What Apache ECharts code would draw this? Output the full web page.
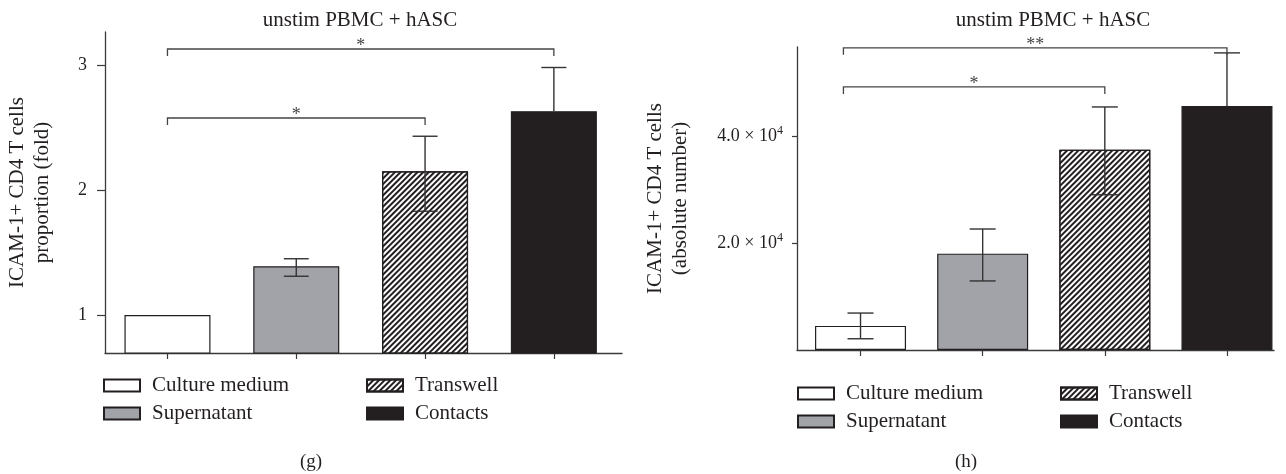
<!DOCTYPE html>
<html><head><meta charset="utf-8">
<script src="https://cdn.jsdelivr.net/npm/echarts@6/dist/echarts.min.js"></script>
<style>html,body{margin:0;padding:0;background:#fff}#c{width:1286px;height:474px}</style>
</head><body><div id="c"></div>
<script>
// ---- data ----
const categories = ['Culture medium', 'Supernatant', 'Transwell', 'Contacts'];
// panel (g): fold change
const foldMean = [1.0, 1.39, 2.15, 2.63];
const foldLow  = [null, 1.31, 1.83, null];
const foldHigh = [null, 1.45, 2.43, 2.98];
const foldTicks = [1, 2, 3];
const foldBrackets = [[0, 3, 3.128], [0, 2, 2.576]];
const foldStars = ['*', '*'];
// panel (h): absolute number
const absMean = [4500, 18000, 37400, 45600];
const absLow  = [2100, 12900, 29000, null];
const absHigh = [6900, 22600, 45400, 55500];
const absTicks = [20000, 40000];
const absBrackets = [[-0.14, 3, 56440], [-0.14, 2, 49150]];
const absStars = ['**', '*'];
const panelTitles = ['unstim PBMC + hASC', 'unstim PBMC + hASC'];
const panelLetters = ['(g)', '(h)'];
const yNames = ['ICAM-1+ CD4 T cells\nproportion (fold)', 'ICAM-1+ CD4 T cells\n(absolute number)'];

// ---- styles ----
const FONT = 'Liberation Serif';
const INK = '#231f20';
const AX = '#3a3a3a';
const fills = ['#ffffff', '#a1a3a9', '#ffffff', '#231f20'];
const hatch = { symbol: 'rect', symbolSize: 1, dashArrayX: [1, 0], dashArrayY: [2, 2], rotation: -Math.PI / 4, color: INK };

const panels = [
  { mean: foldMean, low: foldLow, high: foldHigh, ticks: foldTicks, brackets: foldBrackets, stars: foldStars,
    grid: { left: 105, top: 32, width: 517, height: 321 }, xmin: -0.485, xmax: 3.529, ymin: 0.696, ymax: 3.264,
    barWidth: 86, cap: 12.5, nameGap: 50, tickLen: 8, labelMargin: 18, fmt: v => '{m|' + v + '}' },
  { mean: absMean, low: absLow, high: absHigh, ticks: absTicks, brackets: absBrackets, stars: absStars,
    grid: { left: 797, top: 47, width: 477, height: 303 }, xmin: -0.52, xmax: 3.385, ymin: 0, ymax: 56600,
    barWidth: 91, cap: 13, nameGap: 104, tickLen: 5, labelMargin: 14, fmt: v => '{m|' + (v / 10000).toFixed(1) + ' × 10}{s|4}' }
];

const grid = [], xAxis = [], yAxis = [], series = [];
panels.forEach((p, g) => {
  grid.push(Object.assign({ containLabel: false }, p.grid));
  xAxis.push({
    type: 'value', gridIndex: g, min: p.xmin, max: p.xmax,
    axisLine: { show: true, onZero: false, lineStyle: { color: AX, width: 1.3 } },
    axisTick: { show: true, customValues: [0, 1, 2, 3], length: 6, lineStyle: { color: AX, width: 1.2 } },
    axisLabel: { show: false }, splitLine: { show: false }
  });
  yAxis.push({
    type: 'value', gridIndex: g, min: p.ymin, max: p.ymax,
    name: yNames[g], nameLocation: 'middle', nameGap: p.nameGap, nameRotate: 90,
    nameTextStyle: { fontFamily: FONT, fontSize: 21, color: INK, lineHeight: 25 },
    axisLine: { show: true, onZero: false, lineStyle: { color: AX, width: 1.3 } },
    axisTick: { show: true, customValues: p.ticks, length: p.tickLen, lineStyle: { color: AX, width: 1.2 } },
    axisLabel: {
      customValues: p.ticks, margin: p.labelMargin, fontFamily: FONT, fontSize: 18, color: INK,
      formatter: p.fmt,
      rich: { m: { fontFamily: FONT, fontSize: 18, color: INK }, s: { fontFamily: FONT, fontSize: 12, color: INK, verticalAlign: 'top', lineHeight: 22 } }
    },
    splitLine: { show: false }
  });
  categories.forEach((c, i) => {
    const item = { color: fills[i], borderColor: INK, borderWidth: 1.2 };
    if (i === 2) item.decal = hatch;
    series.push({
      name: c, type: 'bar', xAxisIndex: g, yAxisIndex: g, barWidth: p.barWidth, barGap: '-100%',
      data: [[i, p.mean[i]]], itemStyle: item, emphasis: { disabled: true }, silent: true
    });
  });
  // error bars (low == null: only the upper whisker is visible)
  const errData = [];
  p.mean.forEach((m, i) => { if (p.high[i] != null) errData.push([i, p.low[i] != null ? p.low[i] : m, p.high[i], p.low[i] != null ? 1 : 0]); });
  series.push({
    type: 'custom', xAxisIndex: g, yAxisIndex: g, data: errData, clip: false, z: 5, silent: true,
    encode: { x: 0, y: [1, 2] },
    renderItem: (params, api) => {
      const x = api.value(0);
      const hi = api.coord([x, api.value(2)]);
      const lo = api.coord([x, api.value(1)]);
      const st = { stroke: '#333', lineWidth: 1.4, fill: null };
      const ch = [
        { type: 'line', shape: { x1: hi[0], y1: hi[1], x2: lo[0], y2: lo[1] }, style: st },
        { type: 'line', shape: { x1: hi[0] - p.cap, y1: hi[1], x2: hi[0] + p.cap, y2: hi[1] }, style: st }
      ];
      if (api.value(3)) ch.push({ type: 'line', shape: { x1: lo[0] - p.cap, y1: lo[1], x2: lo[0] + p.cap, y2: lo[1] }, style: st });
      return { type: 'group', children: ch };
    }
  });
  // significance brackets
  series.push({
    type: 'custom', xAxisIndex: g, yAxisIndex: g, data: p.brackets, clip: false, z: 6, silent: true,
    encode: { x: [0, 1], y: 2 },
    renderItem: (params, api) => {
      const a = api.coord([api.value(0), api.value(2)]);
      const b = api.coord([api.value(1), api.value(2)]);
      const drop = 7;
      return { type: 'group', children: [
        { type: 'polyline', shape: { points: [[a[0], a[1] + drop], [a[0], a[1]], [b[0], b[1]], [b[0], b[1] + drop]] },
          style: { stroke: '#444', lineWidth: 1.3, fill: null } },
        { type: 'text', style: { text: p.stars[params.dataIndex], x: (a[0] + b[0]) / 2, y: a[1] - 3,
          align: 'center', verticalAlign: 'middle', fontFamily: FONT, fontSize: 18, fill: '#444' } }
      ] };
    }
  });
});

const legendBase = {
  orient: 'vertical', itemWidth: 36, itemHeight: 12, itemGap: 7, selectedMode: false, icon: 'rect',
  textStyle: { fontFamily: FONT, fontSize: 21, color: INK, lineHeight: 20, padding: [0, 0, 0, 7] }
};
const legend = [
  Object.assign({}, legendBase, { data: ['Culture medium', 'Supernatant'], left: 98, top: 370 }),
  Object.assign({}, legendBase, { data: ['Transwell', 'Contacts'], left: 361, top: 370 }),
  Object.assign({}, legendBase, { data: ['Culture medium', 'Supernatant'], left: 792, top: 378 }),
  Object.assign({}, legendBase, { data: ['Transwell', 'Contacts'], left: 1055, top: 378 })
];

const txt = (t, x, y, size) => ({ type: 'text', x: x, y: y, style: { text: t, align: 'center', verticalAlign: 'middle', fontFamily: FONT, fontSize: size, fill: INK } });
const graphic = [
  txt(panelTitles[0], 360, 20, 21), txt(panelTitles[1], 1053, 20, 21),
  txt(panelLetters[0], 311, 462, 19), txt(panelLetters[1], 966, 462, 19)
];

const chart = echarts.init(document.getElementById('c'), null, { renderer: 'canvas' });
chart.setOption({ animation: false, backgroundColor: '#fff', grid, xAxis, yAxis, series, legend, graphic });
</script></body></html>
